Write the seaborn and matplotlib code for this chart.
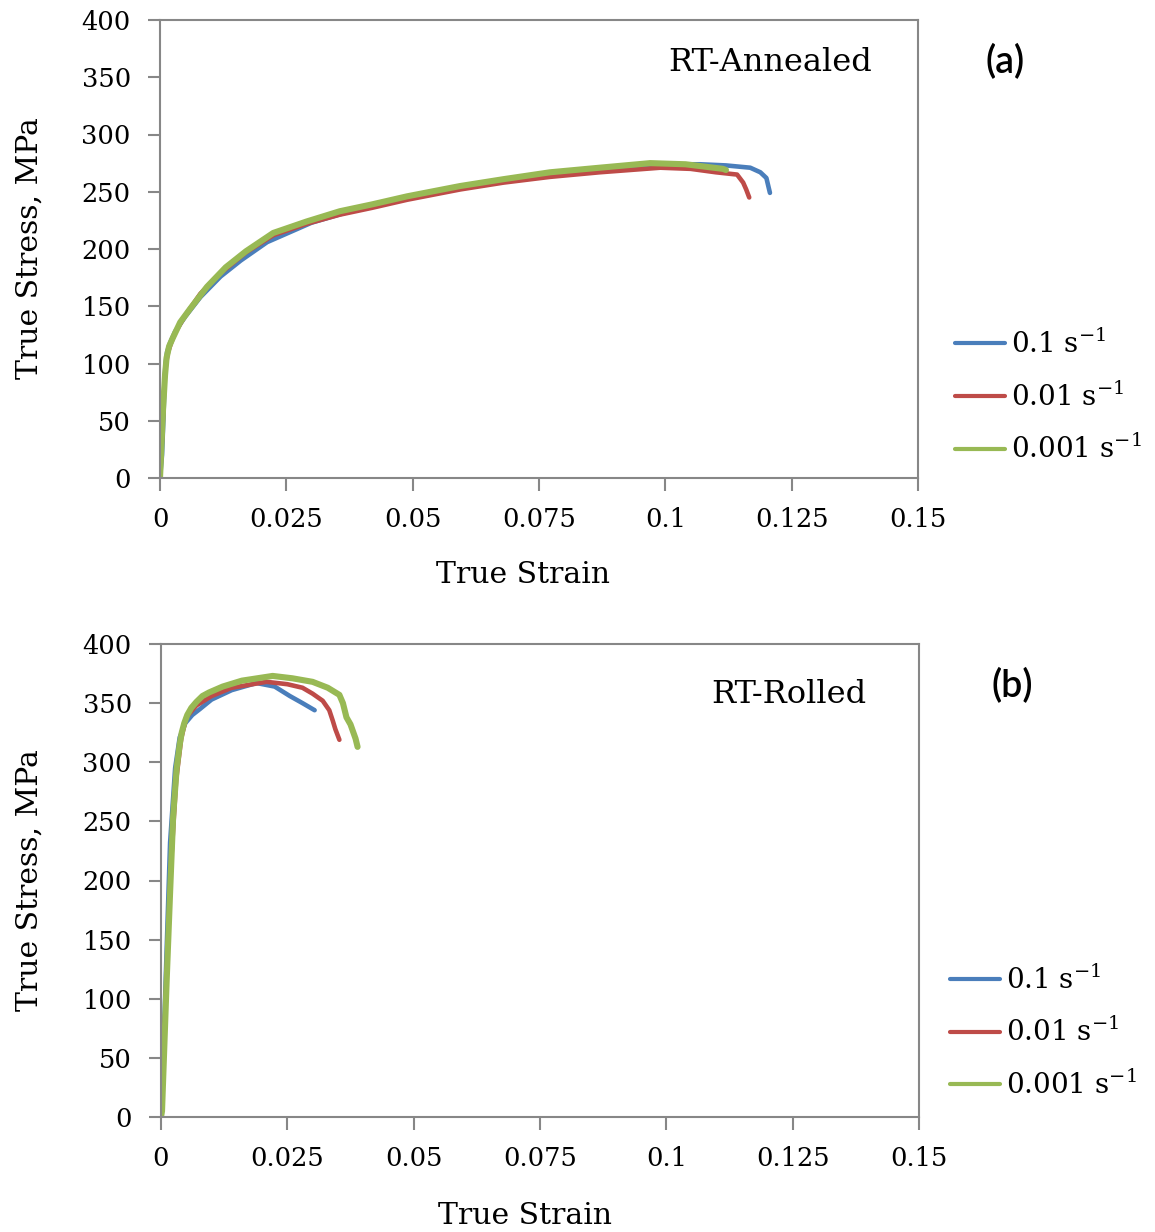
import numpy as np
import pandas as pd
import matplotlib
matplotlib.use("Agg")
import matplotlib.pyplot as plt
import seaborn as sns

# ---------------- data ----------------
rate_labels = ["0.1 s$^{-1}$", "0.01 s$^{-1}$", "0.001 s$^{-1}$"]
colors = ["#4A7EBB", "#BE4B48", "#98B954"]

# (a) RT-Annealed
ann_strain_01 = [0, 0.0004, 0.0007, 0.0009, 0.0011, 0.0014, 0.002, 0.003, 0.005, 0.008, 0.012, 0.016,
                 0.0212, 0.03, 0.04, 0.05, 0.06, 0.07, 0.08, 0.09, 0.1, 0.1069, 0.112, 0.1168,
                 0.1188, 0.120, 0.1207]
ann_stress_01 = [0, 20, 55, 85, 100, 110, 118, 128, 141, 158, 176, 190,
                 206, 223, 236, 246, 255, 262, 267, 271, 274, 274, 273, 271,
                 267, 262, 249]
ann_strain_001 = [0, 0.0003, 0.0006, 0.0009, 0.0012, 0.0016, 0.0022, 0.003, 0.005, 0.008, 0.012, 0.017,
                  0.0224, 0.029, 0.0356, 0.042, 0.0489, 0.0594, 0.068, 0.0772, 0.087, 0.099, 0.105,
                  0.110, 0.1142, 0.1154, 0.116, 0.1166]
ann_stress_001 = [0, 25, 55, 85, 100, 110, 118, 127, 142, 161, 179, 197,
                  212, 222, 230, 236, 243, 252, 258, 263, 267, 271, 270,
                  267, 265, 258, 252, 245]
ann_strain_0001 = [0, 0.0003, 0.0006, 0.001, 0.0013, 0.0018, 0.0025, 0.004, 0.006, 0.0093, 0.013, 0.017,
                   0.0224, 0.029, 0.0356, 0.042, 0.0489, 0.0594, 0.068, 0.0772, 0.087, 0.097, 0.104,
                   0.1114, 0.112]
ann_stress_0001 = [0, 30, 60, 90, 105, 115, 122, 136, 148, 167, 184, 198,
                   214, 224, 233, 239, 246, 255, 261, 267, 271, 275, 274,
                   270, 269]

# (b) RT-Rolled
rol_strain_01 = [0, 0.0008, 0.0018, 0.0028, 0.0037, 0.0048, 0.0062, 0.0077, 0.01, 0.014, 0.0189,
                 0.0225, 0.0255, 0.028, 0.0304]
rol_stress_01 = [0, 99, 232, 295, 321, 333, 340, 345, 353, 361, 367,
                 364, 356, 350, 344]
rol_strain_001 = [0, 0.001, 0.002, 0.003, 0.004, 0.005, 0.007, 0.01, 0.014, 0.0209, 0.025, 0.028,
                  0.030, 0.032, 0.0333, 0.034, 0.0345, 0.0353]
rol_stress_001 = [0, 105, 215, 285, 320, 338, 348, 356, 363, 368, 366, 363,
                  358, 352, 344, 335, 328, 319]
rol_strain_0001 = [0, 0.0002, 0.0011, 0.0018, 0.0024, 0.0031, 0.0037, 0.0041, 0.0046, 0.0052,
                   0.0060, 0.0070, 0.0082, 0.0095, 0.0122, 0.016, 0.0221, 0.026, 0.030, 0.033,
                   0.0353, 0.036, 0.0367, 0.0375, 0.038, 0.0385, 0.0389]
rol_stress_0001 = [0, 5, 113, 190, 254, 295, 315, 325, 333, 340,
                   346, 351, 356, 359, 364, 369, 373, 371, 368, 363,
                   357, 350, 338, 332, 326, 320, 313]

x_ticks = [0, 0.025, 0.05, 0.075, 0.1, 0.125, 0.15]
x_ticklabels = ["0", "0.025", "0.05", "0.075", "0.1", "0.125", "0.15"]
y_ticks = [0, 50, 100, 150, 200, 250, 300, 350, 400]


def make_df(strains, stresses):
    frames = []
    for lab, s, t in zip(rate_labels, strains, stresses):
        frames.append(pd.DataFrame({"strain": s, "stress": t, "rate": lab}))
    return pd.concat(frames, ignore_index=True)


df_a = make_df([ann_strain_01, ann_strain_001, ann_strain_0001],
               [ann_stress_01, ann_stress_001, ann_stress_0001])
df_b = make_df([rol_strain_01, rol_strain_001, rol_strain_0001],
               [rol_stress_01, rol_stress_001, rol_stress_0001])

# ---------------- style ----------------
sns.set_theme(style="white")
plt.rcParams["font.family"] = ["DejaVu Serif"]
plt.rcParams["mathtext.fontset"] = "dejavuserif"
plt.rcParams["text.color"] = "black"
plt.rcParams["axes.labelcolor"] = "black"
plt.rcParams["xtick.labelcolor"] = "black"
plt.rcParams["ytick.labelcolor"] = "black"

W, H = 1155, 1232
fig = plt.figure(figsize=(W / 100, H / 100), dpi=100)
ax_a = fig.add_axes([160 / W, 1 - 478 / H, 758 / W, 458 / H])
ax_b = fig.add_axes([161 / W, 1 - 1117 / H, 758 / W, 473 / H])

grey = "#878787"
palette = dict(zip(rate_labels, colors))
lw = {rate_labels[0]: 3.3, rate_labels[1]: 3.3, rate_labels[2]: 4.4}

for ax, df, title, tag, tpos, gpos, legpos, xl, yl in [
    (ax_a, df_a, "RT-Annealed", "(a)", (0.805, 0.908), (1.115, 0.908), (1.049, 0.177),
     (0.479, -0.181), (-0.153, 0.502)),
    (ax_b, df_b, "RT-Rolled", "(b)", (0.828, 0.894), (1.123, 0.911), (1.041, 0.178),
     (0.480, -0.180), (-0.155, 0.501)),
]:
    for lab in rate_labels:
        sub = df[df["rate"] == lab]
        sns.lineplot(data=sub, x="strain", y="stress", ax=ax, color=palette[lab],
                     lw=lw[lab], sort=False, estimator=None, label=lab,
                     solid_capstyle="round", solid_joinstyle="round")
    ax.set_xlim(0, 0.15)
    ax.set_ylim(0, 400)
    ax.set_xticks(x_ticks)
    ax.set_xticklabels(x_ticklabels)
    ax.set_yticks(y_ticks)
    ax.set_xlabel("True Strain", fontsize=21.5)
    ax.set_ylabel("True Stress, MPa", fontsize=21.5)
    ax.xaxis.set_label_coords(*xl)
    ax.yaxis.set_label_coords(*yl)
    ax.tick_params(axis="both", which="major", direction="out", length=9, width=1.5,
                   color=grey, labelsize=18.5, pad=12, bottom=True, left=True)
    for sp in ax.spines.values():
        sp.set_color(grey)
        sp.set_linewidth(1.5)
    ax.text(tpos[0], tpos[1], title, transform=ax.transAxes, ha="center", va="center",
            fontsize=23)
    ax.text(gpos[0], gpos[1], tag, transform=ax.transAxes, ha="center", va="center",
            fontsize=27, family="Lato", fontweight="semibold")
    leg = ax.legend(loc="center left", bbox_to_anchor=legpos, frameon=False,
                    fontsize=20, handlelength=1.8, handletextpad=0.2, borderpad=0,
                    borderaxespad=0, labelspacing=0.85)
    for h in leg.get_lines():
        h.set_linewidth(3)

fig.savefig("out.png", dpi=100)
